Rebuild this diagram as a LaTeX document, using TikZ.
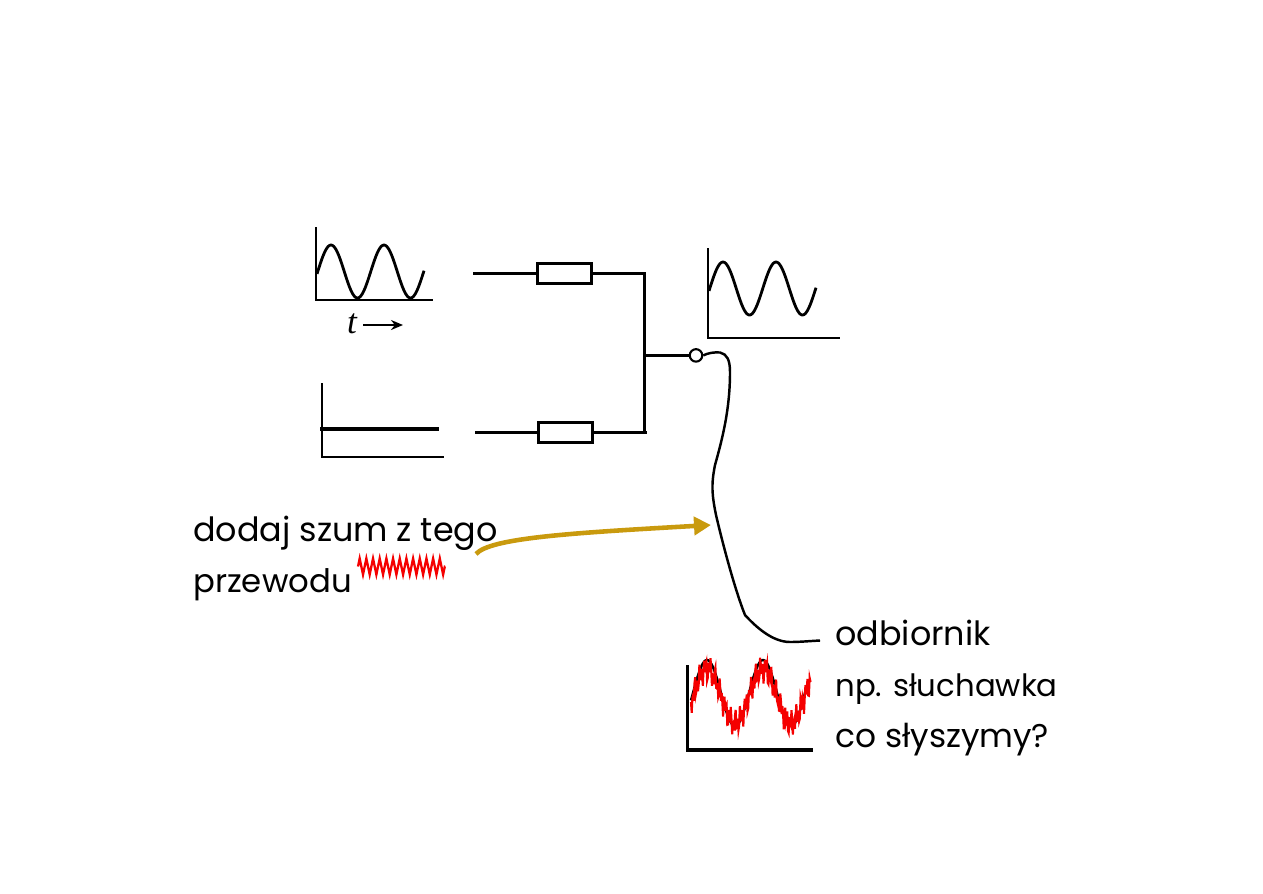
\documentclass[tikz,border=0pt]{standalone}
\usepackage{fontspec}
\setmainfont{Poppins}
\newfontfamily\timefont{Liberation Serif}
\usepackage{xcolor}
\usetikzlibrary{
    arrows.meta,
    decorations.pathmorphing
}
\definecolor{wiregold}{HTML}{C99A0E}
\definecolor{noisered}{HTML}{F50000}
\tikzset{
    % Axes of the small plots
    axes/.style={
        line width=1.3pt,
        color=black
    },
    % Signal curve
    signal/.style={
        line width=1.6pt,
        smooth,
        line join=round
    },
    % Wires of the circuit
    wire/.style={
        line width=1.8pt
    },
    % Resistor box
    resistor/.style={
        rectangle,
        draw,
        fill=white,
        line width=1.8pt,
        inner sep=0pt,
        minimum width=1.07cm,
        minimum height=0.4cm
    },
    % Open terminal
    terminal/.style={
        circle,
        draw,
        fill=white,
        line width=1.2pt,
        inner sep=0pt,
        minimum size=0.25cm
    },
    % Handwritten label
    label text/.style={
        anchor=base west,
        inner sep=0pt,
        font=\fontsize{#1}{20}\selectfont
    }
}
\begin{document}
\begin{tikzpicture}[x=0.02cm, y=-0.02cm]
    \useasboundingbox (0,0) rectangle (1263,893);

    % Plot of the input signal
    \coordinate (top1) at (316,227);
    \coordinate (org1) at (316,300);
    \coordinate (end1) at (433,300);
    \draw[axes] (top1) -- (org1) -- (end1);
    \draw[signal] plot[domain=317:424, samples=90] (\x, {271.5-26.5*cos((\x-331)/53*360)});
    \node[inner sep=0pt, font=\fontsize{20}{22}\timefont\itshape] (time) at (352,324) {t};
    \coordinate (timeend) at (403,325);
    \draw[-{Stealth[length=2.4mm, width=2mm]}, line width=1.2pt] (363,325) -- (timeend);

    % Plot of the constant signal
    \coordinate (top2) at (322,383);
    \coordinate (org2) at (322,457);
    \coordinate (end2) at (444,457);
    \draw[axes] (top2) -- (org2) -- (end2);
    \coordinate (lev1) at (320,429);
    \coordinate (lev2) at (439,429);
    \draw[line width=2.2pt] (lev1) -- (lev2);

    % Plot at the junction
    \coordinate (top3) at (708,248);
    \coordinate (org3) at (708,338);
    \coordinate (end3) at (840,338);
    \draw[axes] (top3) -- (org3) -- (end3);
    \draw[signal] plot[domain=709:816, samples=90] (\x, {288.5-26.5*cos((\x-723)/53*360)});

    % Circuit
    \node[resistor] (r1) at (564.5,273.5) {};
    \node[resistor] (r2) at (565.5,432.5) {};
    \coordinate (in1) at (473,273.5);
    \coordinate (in2) at (475,432.5);
    \coordinate (bus1) at (644.5,273.5);
    \coordinate (bus2) at (644.5,432.5);
    \coordinate (busin) at (644.5,355.4);
    \coordinate (busend) at (646.5,432.5);
    \node[terminal] (out) at (696,355.4) {};
    \draw[wire] (in1) -- (r1) -- (bus1) -- (bus2);
    \draw[wire] (in2) -- (r2) -- (busend);
    \draw[wire] (busin) -- (out);

    % Long wire to the receiver
    \coordinate (rcv) at (820,640.5);
    \draw[line width=1.4pt] (out.east) .. controls (708,353) and (714,352) .. (720,352.5)
        .. controls (727,354) and (730,360) .. (730,372)
        .. controls (730,410) and (722,440) .. (715,465)
        .. controls (711,485) and (712,495) .. (716,515)
        .. controls (723,545) and (735,590) .. (745,615)
        .. controls (755,626) and (772,642) .. (790,642)
        .. controls (800,642) and (810,641) .. (rcv);

    % Noisy signal at the receiver
    \coordinate (top4) at (687.5,665);
    \coordinate (org4) at (687.5,750);
    \coordinate (end4) at (813,750);
    \draw[line width=2pt] (top4) -- (org4) -- (end4);
    \draw[signal, line width=1.4pt] plot[domain=691:808, samples=90] (\x, {693-33*cos((\x-707)/56*360)});
    \draw[noisered, line width=1.2pt] plot[domain=691:811, samples=173]
        (\x, {696-27*cos((\x-707)/56*360)+9*sin(160*mod(\x-691,9))+6*sin(71*(\x-691))});

    % Labels
    \node[label text=19] (add1) at (193,541) {dodaj szum z tego};
    \node[label text=18.4] (add2) at (193,592) {przewodu};
    \node[label text=19] (rec1) at (835,645) {odbiornik};
    \node[label text=17.5] (rec2) at (835,696) {np. słuchawka};
    \node[label text=18.7] (rec3) at (835,747) {co słyszymy?};

    % Noise sample and the arrow that injects it
    \coordinate (zig1) at (358,566.5);
    \coordinate (zig2) at (445,566.5);
    \draw[noisered, line width=1.3pt, decorate, decoration={zigzag, segment length=3.8pt, amplitude=4.6pt}] (zig1) -- (zig2);
    \coordinate (inj1) at (476,554);
    \coordinate (inj2) at (711,525);
    \draw[wiregold, line width=2.6pt, -{Triangle[length=3.4mm, width=3.6mm]}]
        (inj1) .. controls (490,538) and (570,533) .. (inj2);
\end{tikzpicture}
\end{document}
